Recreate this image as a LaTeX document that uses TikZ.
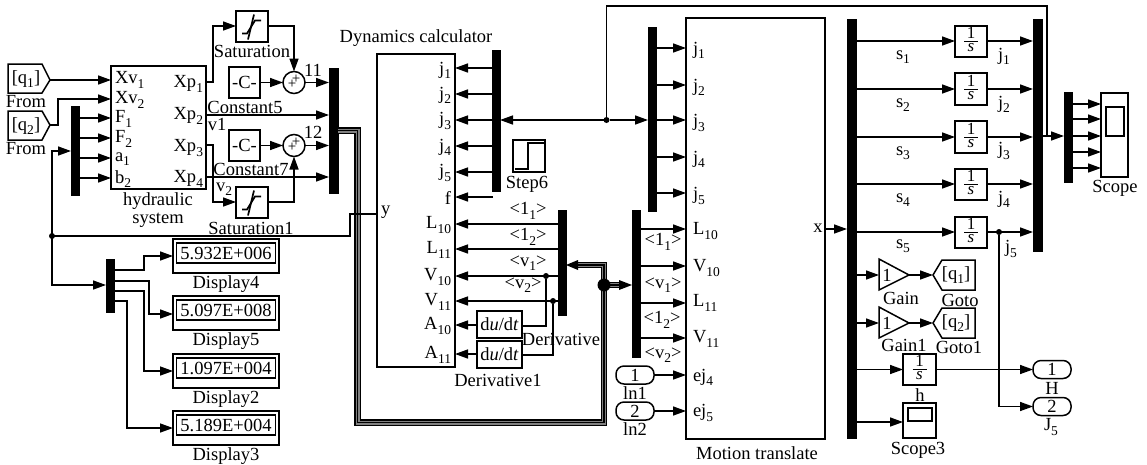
\documentclass[tikz,border=0pt]{standalone}
\usepackage{fontspec}
\setmainfont{Liberation Serif}
\usetikzlibrary{arrows.meta,calc}
\newcommand{\sbs}[1]{\raisebox{-0.5ex}{\fontsize{13.5}{13.5}\selectfont #1}}
\newcommand{\blk}[7][]{\node[blk,#1,minimum width={#5-#3},minimum height={#6-#4}] (#2) at ({(#3+#5)/2},{(#4+#6)/2}) {#7};}
\newcommand{\busp}[1]{\draw[line width=6.5pt,black,line join=miter]#1;\draw[line width=4pt,gray,line join=miter]#1;\draw[line width=1.6pt,black,line join=miter]#1;}
\newcommand{\integ}[5]{\blk{#1}{#2}{#3}{#4}{#5}{}\node[itx] (#1n) at ($(#1.center)+(0,-8.5)$) {1};\draw[line width=.8pt] ($(#1.center)+(-7,0)$)--($(#1.center)+(7,0)$);\node[itx] (#1d) at ($(#1.center)+(0,6.5)$) {\itshape s};}
\newcommand{\satur}[1]{\draw[line width=1.7pt] ($(#1.center)+(-10,7)$)--($(#1.center)+(-5,7)$)--($(#1.center)+(3,-6)$)--($(#1.center)+(9,-6)$);\draw[line width=1.7pt] ($(#1.center)+(2,-12)$)--($(#1.center)+(-4,13)$);}
\tikzset{
  blk/.style={draw,line width=1.5pt,inner sep=0pt,outer sep=0pt,fill=white,font=\fontsize{18.5}{20}\selectfont},
  bar/.style={draw=black,fill=black,inner sep=0pt,outer sep=0pt,line width=0pt},
  txt/.style={inner sep=0pt,outer sep=0pt,font=\fontsize{18.5}{20}\selectfont},
  itx/.style={inner sep=0pt,outer sep=0pt,font=\fontsize{17}{17}\selectfont},
  conn/.style={line width=1.5pt,line join=miter},
  arr/.style={conn,-{Triangle[length=13pt,width=9pt]}},
  dot/.style={circle,fill=black,inner sep=0pt,minimum size=6pt,outer sep=0pt},
  lft/.style={txt,anchor=west},
  rgt/.style={txt,anchor=east},
  term/.style={draw,line width=1.5pt,rounded corners=8pt,minimum width=38pt,minimum height=18pt,inner sep=0pt,outer sep=0pt,txt},
}
\begin{document}
\begin{tikzpicture}[x=1pt,y=-1pt]
\useasboundingbox (0,0) rectangle (1147,464);
% --- From blocks
\draw[line width=1.5pt] (8,64)--(42,64)--(50,80)--(42,93)--(8,93)--cycle;
\draw[line width=1.5pt] (8,111)--(42,111)--(50,125)--(42,140)--(8,140)--cycle;
\node[txt] (q1) at (26,79) {[q\sbs{1}]};
\node[txt] (q2) at (26,126) {[q\sbs{2}]};
\coordinate (from1) at (50,80);
\coordinate (from2) at (50,125);
\node[txt] (lf1) at (26,102) {From};
\node[txt] (lf2) at (26,149) {From};
% --- hydraulic
\blk{hyd}{111}{66}{206}{189}{}
\node[lft] at (115,80) {Xv\sbs{1}};
\node[lft] at (115,100) {Xv\sbs{2}};
\node[lft] at (115,119) {F\sbs{1}};
\node[lft] at (115,139) {F\sbs{2}};
\node[lft] at (115,159) {a\sbs{1}};
\node[lft] at (115,179) {b\sbs{2}};
\node[rgt] at (203,84) {Xp\sbs{1}};
\node[rgt] at (203,116) {Xp\sbs{2}};
\node[rgt] at (203,148) {Xp\sbs{3}};
\node[rgt] at (203,179) {Xp\sbs{4}};
\node[txt] at (158,201) {hydraulic};
\node[txt] at (158,220) {system};
\blk[bar]{mhyd}{71}{106}{79}{195}{}
\draw[arr] (from1)--(hyd.west |- 0,80);
\draw[arr] (from2)--(58,125)--(58,99)--(hyd.west |- 0,99);
\foreach \y in {118,138,158,178}{\draw[arr] (mhyd.east |- 0,\y)--(hyd.west |- 0,\y);}
% --- saturation etc
\blk{sat}{236}{11}{268}{42}{}
\satur{sat}
\blk{sat1}{236}{187}{268}{218}{}
\satur{sat1}
\blk{c5}{229}{67}{260}{98}{-C-}
\blk{c7}{229}{130}{260}{161}{-C-}
\node[circle,draw,line width=1.5pt,minimum size=22pt,inner sep=0pt,outer sep=0pt] (s1) at (294,82.5) {};
\node[circle,draw,line width=1.5pt,minimum size=22pt,inner sep=0pt,outer sep=0pt] (s2) at (294,145.5) {};
\foreach \n in {s1,s2}{
  \node[inner sep=0pt,font=\fontsize{15}{15}\selectfont] at ($(\n.center)+(2,-3.5)$) {+};
  \node[inner sep=0pt,font=\fontsize{15}{15}\selectfont] at ($(\n.center)+(-2,2)$) {+};
}
\blk[bar]{m1}{329}{68}{338}{193}{}
\draw[arr] (hyd.east |- 0,82)--(213,82)--(213,26)--(sat.west |- 0,26);
\draw[arr] (sat.east |- 0,26)--(294,26)--(s1.north);
\draw[arr] (c5.east |- 0,82.5)--(s1.west);
\draw[arr] (s1.east)--(m1.west |- 0,82.5);
\draw[arr] (hyd.east |- 0,115)--(m1.west |- 0,115);
\draw[arr] (hyd.east |- 0,145)--(213,145)--(213,202)--(sat1.west |- 0,202);
\draw[arr] (sat1.east |- 0,202)--(294,202)--(s2.south);
\draw[arr] (c7.east |- 0,145.5)--(s2.west);
\draw[arr] (s2.east)--(m1.west |- 0,145.5);
\draw[arr] (hyd.east |- 0,177)--(m1.west |- 0,177);
\node[txt] at (252,51) {Saturation};
\node[txt] at (251,228) {Saturation1};
\node[txt] at (245,107) {Constant5};
\node[txt] at (251,169) {Constant7};
\node[txt] at (313,70) {11};
\node[txt] at (313,132) {12};
\node[txt] at (217,124) {v1};
\node[txt] at (224,189) {v\sbs{2}};
% --- displays
\blk[bar]{m2}{106}{259}{114}{312}{}
\foreach \n/\a/\b/\v/\l/\ly in {d4/239/273/5.932E+006/Display4/284,d5/296/330/5.097E+008/Display5/341,d2/354/388/1.097E+004/Display2/399,d3/411/445/5.189E+004/Display3/456}{
  \blk{\n}{173}{\a}{279}{\b}{}
  \node[draw,line width=1.5pt,inner sep=0pt,outer sep=0pt,minimum width=99pt,minimum height=20pt,txt] (\n v) at ($(\n.north)+(0,14)$) {\v};
  \node[txt] at (226,\ly) {\l};
}
\coordinate (fb) at (52,236);
\node[dot] at (fb) {};
\draw[conn] (fb)--(350,236)--(350,214)--(377,214);
\draw[arr] (fb)--(52,151)--(mhyd.west |- 0,151);
\draw[arr] (fb)--(52,285)--(m2.west |- 0,285);
\draw[arr] (m2.east |- 0,270)--(144,270)--(144,256)--(d4.west |- 0,256);
\draw[arr] (m2.east |- 0,281)--(149,281)--(149,314)--(d5.west |- 0,314);
\draw[arr] (m2.east |- 0,291)--(144,291)--(144,371)--(d2.west |- 0,371);
\draw[arr] (m2.east |- 0,301)--(127,301)--(127,428)--(d3.west |- 0,428);
% --- dynamics
\blk{dyn}{377}{54}{455}{367}{}
\node[txt] at (416,38) {Dynamics calculator};
\node[txt,anchor=west] at (381,212) {y};
\foreach \l/\y in {j\sbs{1}/70,j\sbs{2}/95,j\sbs{3}/121,j\sbs{4}/147,j\sbs{5}/173,f/198,L\sbs{10}/225,L\sbs{11}/250,V\sbs{10}/277,V\sbs{11}/302,A\sbs{10}/326,A\sbs{11}/355}{\node[rgt] at (451,\y) {\l};}
\blk[bar]{mj}{492}{50}{500}{191}{}
\foreach \y in {68,94,120,146,172}{\draw[arr] (mj.west |- 0,\y)--(dyn.east |- 0,\y);}
\coordinate (ff) at (493,197);
\draw[arr] (ff)--(dyn.east |- 0,197);
\blk{step}{513}{140}{545}{172}{}
\draw[line width=1.5pt] (515,169)--(528,169)--(528,143)--(544,143);
\node[txt] at (527,184) {Step6};
\blk[bar]{mc}{558}{210}{566}{315}{}
\foreach \y in {224,249,276,301}{\draw[arr] (mc.west |- 0,\y)--(dyn.east |- 0,\y);}
\node[txt] at (528,211) {<1\sbs{1}>};
\node[txt] at (528,237) {<1\sbs{2}>};
\node[txt] at (528,263) {<v\sbs{1}>};
\node[txt] at (523,285) {<v\sbs{2}>};
\blk{der}{477}{311}{522}{338}{d\textit{u}/d\textit{t}}
\blk{der1}{477}{341}{522}{368}{d\textit{u}/d\textit{t}}
\node[txt] at (561,339) {Derivative};
\node[txt] at (498,380) {Derivative1};
\node[dot] (dv1) at (546,276) {};
\node[dot] (dv2) at (553,301) {};
\draw[arr] (der.west |- 0,325)--(dyn.east |- 0,325);
\draw[arr] (der1.west |- 0,354)--(dyn.east |- 0,354);
\draw[conn] (der.east |- 0,326)--(546,326)--(dv1);
\draw[conn] (der1.east |- 0,355)--(553,355)--(dv2);
% --- motion translate
\blk{mot}{686}{18}{825}{439}{}
\node[txt] at (757,453) {Motion translate};
\foreach \l/\y in {j\sbs{1}/50,j\sbs{2}/87,j\sbs{3}/123,j\sbs{4}/159,j\sbs{5}/196,L\sbs{10}/231,V\sbs{10}/268,L\sbs{11}/303,V\sbs{11}/339,ej\sbs{4}/377,ej\sbs{5}/413}{\node[lft] at (693,\y) {\l};}
\blk[bar]{mt}{648}{27}{656}{211}{}
\foreach \y in {48,85,120,157,193}{\draw[arr] (mt.east |- 0,\y)--(mot.west |- 0,\y);}
\blk[bar]{ml}{632}{210}{640}{357}{}
\foreach \y in {229,266,303,338}{\draw[arr] (ml.east |- 0,\y)--(mot.west |- 0,\y);}
\node[txt] at (663,242) {<1\sbs{1}>};
\node[txt] at (663,285) {<v\sbs{1}>};
\node[txt] at (662,320) {<1\sbs{2}>};
\node[txt] at (663,355) {<v\sbs{2}>};
\node[term] (in1) at (635,375) {1};
\node[term] (in2) at (635,411) {2};
\node[txt] at (635,393) {ln1};
\node[txt] at (635,429) {ln2};
\draw[arr] (in1.east)--(mot.west |- in1.east);
\draw[arr] (in2.east)--(mot.west |- in2.east);
% --- j3 junction
\node[dot] (jj) at (606.5,120) {};
\draw[arr] (jj)--(mj.east |- jj);
\draw[arr] (jj)--(mt.west |- jj);
% --- bus
\coordinate (jbc) at (604,285);
\coordinate (b1) at (357.5,130.5);
\coordinate (b2) at (357.5,422.5);
\coordinate (b3) at (604,422.5);
\coordinate (b4) at (604,265);
\busp{(m1.east |- b1)--(b1)--(b2)--(b3)--(b4)--(577,265)}
\busp{(jbc)--(620,285)}
\node[dot,minimum size=13pt] (jb) at (jbc) {};
\fill (mc.east |- b4)--(578,260)--(578,270)--cycle;
\fill (ml.west |- jb)--(619,280)--(619,290)--cycle;
% redraw feedback over bus
\draw[conn] (350,214)--(dyn.west |- 0,214);
% --- demux right
\blk[bar]{mr}{847}{19}{856}{438}{}
\draw[arr] (mot.east |- 0,229)--(mr.west |- 0,229);
\node[txt] at (818,228) {x};
\blk[bar]{mo}{1033}{19}{1042}{251}{}
\integ{i1}{955}{26}{987}{57}
\integ{i2}{955}{73}{987}{105}
\integ{i3}{955}{121}{987}{153}
\integ{i4}{955}{169}{987}{200}
\integ{i5}{955}{217}{987}{248}
\foreach \n/\y in {i1/41,i2/89,i3/137,i4/184,i5/232}{
 \draw[arr] (mr.east |- 0,\y)--(\n.west |- 0,\y);
 \draw[arr] (\n.east |- 0,\y)--(mo.west |- 0,\y);
}
\node[txt] at (903,57) {s\sbs{1}};
\node[txt] at (903,105) {s\sbs{2}};
\node[txt] at (903,153) {s\sbs{3}};
\node[txt] at (903,200) {s\sbs{4}};
\node[txt] at (903,246) {s\sbs{5}};
\node[txt] at (1004,56) {j\sbs{1}};
\node[txt] at (1004,104) {j\sbs{2}};
\node[txt] at (1004,151) {j\sbs{3}};
\node[txt] at (1004,199) {j\sbs{4}};
\node[txt] at (1011,249) {j\sbs{5}};
\blk[bar]{ms}{1064}{92}{1072}{182}{}
\blk{scope}{1101}{93}{1128}{177}{}
\node[draw,line width=1.5pt,minimum width=18pt,minimum height=29pt,inner sep=0pt] (scs) at (1115,121.5) {};
\node[txt] at (1115,188) {Scope};
\foreach \y in {104,119,136,152,168}{\draw[arr] (ms.east |- 0,\y)--(scope.west |- 0,\y);}
\draw[arr] (mo.east |- 0,136)--(ms.west |- 0,136);
\draw[conn] (jj)--(606.5,6)--(1047,6)--(1047,136);
% gains
\foreach \n/\y/\g/\q in {g/275/Goto/1,ga/323/Goto1/2}{
  \draw[line width=1.5pt] (879,\y-16)--(909,\y)--(879,\y+15)--cycle;
  \node[txt] at (887,\y) {1};
  \draw[line width=1.5pt] (933,\y)--(942,\y-15)--(975,\y-15)--(975,\y+15)--(942,\y+15)--cycle;
  \node[txt] at (956,\y) {[q\sbs{\q}]};
  \draw[arr] (mr.east |- 0,\y)--(879,\y);
  \draw[arr] (909,\y)--(933,\y);
}
\node[txt] at (901,298) {Gain};
\node[txt] at (960,300) {Goto};
\node[txt] at (904,345) {Gain1};
\node[txt] at (959,347) {Goto1};
\integ{ih}{903}{354}{936}{385}
\node[txt] at (920,395) {h};
\draw[arr] (mr.east |- ih.west)--(ih.west);
\node[term] (o1) at (1052,369.5) {1};
\node[term] (o2) at (1052,406.5) {2};
\node[txt] at (1052,388) {H};
\node[txt] at (1051,427) {J\sbs{5}};
\draw[arr] (ih.east)--(o1.west);
\node[dot] (dj) at (999,232) {};
\draw[arr] (dj)--(dj |- o2.west)--(o2.west);
\blk{sc3}{903}{403}{936}{438}{}
\node[draw,line width=1.5pt,minimum width=24pt,minimum height=13pt,inner sep=0pt] (sc3s) at (920,414.5) {};
\node[txt] at (918,450) {Scope3};
\draw[arr] (mr.east |- 0,422)--(sc3.west |- 0,422);
\end{tikzpicture}
\end{document}
